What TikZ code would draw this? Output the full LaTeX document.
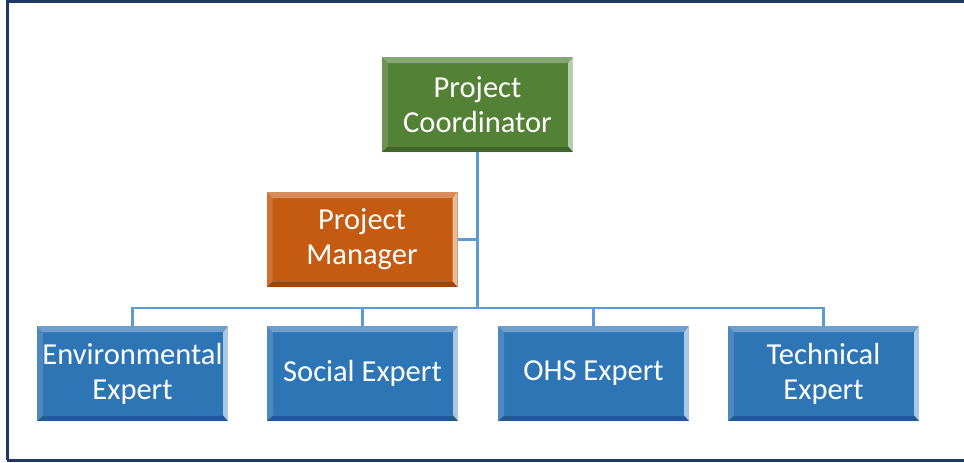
\documentclass[tikz,border=0pt]{standalone}
\usepackage{fontspec}
\setmainfont{Carlito}
\usetikzlibrary{calc}
\definecolor{grn}{HTML}{538135}
\definecolor{org}{HTML}{C55A11}
\definecolor{blu}{HTML}{2E75B6}
\definecolor{lnk}{HTML}{5B9BD5}
\definecolor{frm}{HTML}{1F3864}
\tikzset{
  bevel/.style={path picture={
    \coordinate (NW) at (path picture bounding box.north west);
    \coordinate (NE) at (path picture bounding box.north east);
    \coordinate (SW) at (path picture bounding box.south west);
    \coordinate (SE) at (path picture bounding box.south east);
    \fill[white,opacity=.30] (NW) -- (NE) -- ($(NE)+(-6,-6)$) -- ($(NW)+(6,-6)$) -- cycle;
    \fill[white,opacity=.15] (NW) -- ($(NW)+(6,-6)$) -- ($(SW)+(6,6)$) -- (SW) -- cycle;
    \fill[white,opacity=.60] (NE) -- (SE) -- ($(SE)+(-5,6)$) -- ($(NE)+(-5,-6)$) -- cycle;
    \fill[black,opacity=.22] (SW) -- (SE) -- ($(SE)+(-5,5)$) -- ($(SW)+(6,5)$) -- cycle;
  }},
  orgbox/.style={bevel, fill=#1, minimum width=191pt, minimum height=95pt,
    inner sep=0pt, text=white, align=center,
    font=\fontsize{30.5}{35}\selectfont},
  link/.style={draw=lnk, line width=2.2pt},
  frame/.style={draw=frm, line width=3pt},
}
\begin{document}
\begin{tikzpicture}[x=1pt,y=1pt]
  \useasboundingbox (0,0) rectangle (964,-463);
  \draw[frame] (7,-460) -- (7,-1.5) -- (964,-1.5);
  \draw[frame] (7,-460) -- (964,-460);

  \node[orgbox=grn] (pc) at (477.5,-104.5) {Project\\Coordinator};
  \node[orgbox=org] (pm) at (362,-239.5) {Project\\Manager};
  \node[orgbox=blu] (env) at (132.5,-373.5) {Environmental\\Expert};
  \node[orgbox=blu] (soc) at (362.5,-373.5) {Social Expert};
  \node[orgbox=blu] (ohs) at (593.5,-373.5) {OHS Expert};
  \node[orgbox=blu] (tech) at (823.5,-373.5) {Technical\\Expert};

  \coordinate (bus) at (477.5,-308);
  \draw[link] (pc.south) -- (bus);
  \draw[link] (pm.east) -- (pm.east -| pc.south);
  \draw[link] (env.north) |- (bus) -| (tech.north);
  \draw[link] (soc.north) -- (soc.north |- bus);
  \draw[link] (ohs.north) -- (ohs.north |- bus);
\end{tikzpicture}
\end{document}
